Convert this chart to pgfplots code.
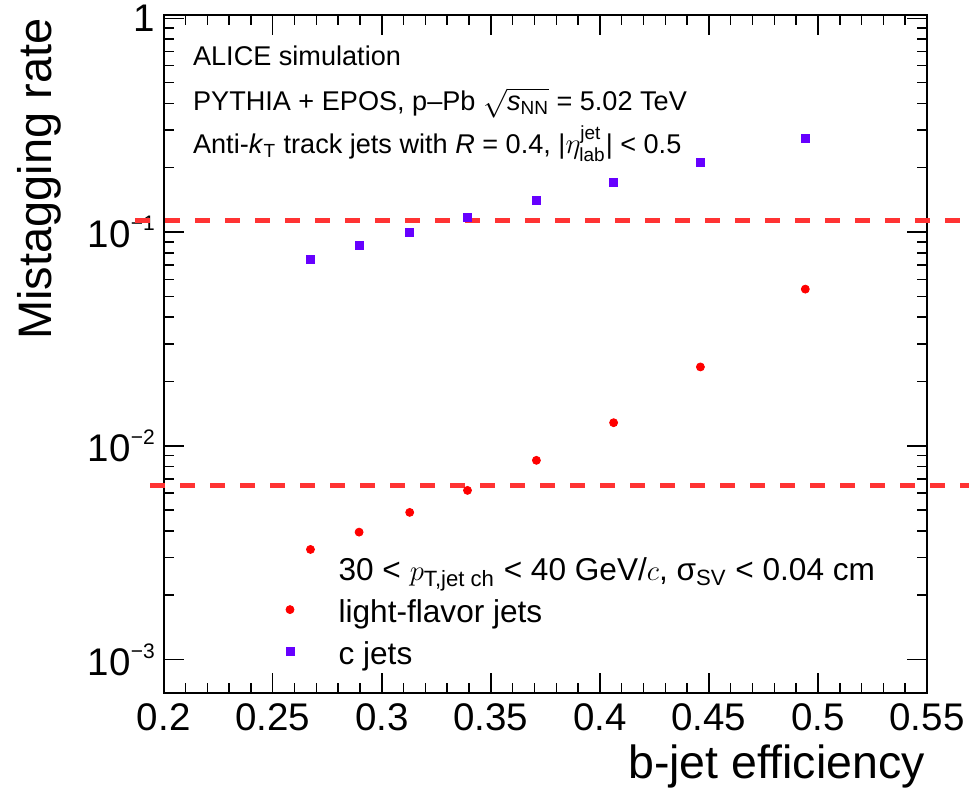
\documentclass[border=0pt]{standalone}
\usepackage{amsmath}
\usepackage{fontspec}
\setmainfont{Liberation Sans}
\usepackage{pgfplots}
\pgfplotsset{compat=1.18}
\definecolor{lfred}{RGB}{255,0,0}
\definecolor{cjet}{RGB}{102,0,255}
\definecolor{dashred}{RGB}{255,51,51}
\begin{document}
\begin{tikzpicture}
\path[use as bounding box] (-81.85pt,-50.65pt) rectangle (402.65pt,346.35pt);
\begin{axis}[
  at={(0pt,0pt)}, anchor=south west,
  scale only axis, width=381.65pt, height=338.85pt,
  xmin=0.2, xmax=0.55, ymode=log, ymin=7e-4, ymax=1.036,
  clip=false,
  xtick={0.2,0.25,0.3,0.35,0.4,0.45,0.5,0.55},
  xticklabels={0.2,0.25,0.3,0.35,0.4,0.45,0.5,0.55},
  minor x tick num=4,
  ytick={0.001,0.01,0.1,1},
  yticklabels={10\raisebox{8.35pt}{\fontsize{10.5}{12}\selectfont −3},
               10\raisebox{8.35pt}{\fontsize{10.5}{12}\selectfont −2},
               10\raisebox{8.35pt}{\fontsize{10.5}{12}\selectfont −1},
               1\hspace{2.5pt}},
  major tick length=10pt, minor tick length=5pt,
  tick style={line width=0.75pt, black},
  axis line style={line width=0.9pt},
  xticklabel style={font=\fontsize{19.25}{23}\selectfont, inner sep=0pt, yshift=-5.3pt},
  yticklabel style={font=\fontsize{19.25}{23}\selectfont, inner sep=0pt, xshift=-4.3pt},
  legend cell align=left,
  legend style={at={(0.16023,0.20171)}, anchor=north west, draw=none, fill=none,
    inner sep=0pt, outer sep=0pt, column sep=22.3pt, row sep=0pt,
    font=\fontsize{15.8}{19}\selectfont,
    nodes={inner sep=0pt, text height=12pt, text depth=9pt}},
  legend image code/.code={\draw[#1] plot coordinates {(0pt,4.7pt)};},
]
\addlegendimage{empty legend}
\addlegendentry{30 < $p_{\text{T,jet ch}}$ < 40 GeV/$c$, σ\textsubscript{SV} < 0.04 cm}

\addplot[only marks, mark=*, color=lfred, mark size=2pt, mark options={fill=lfred, draw=lfred}]
  coordinates {(0.2673,0.003275) (0.2896,0.003948) (0.3128,0.004882) (0.3393,0.006187)
               (0.3709,0.008553) (0.4063,0.01283) (0.4461,0.02339) (0.4942,0.05408)};
\addlegendentry{light-flavor jets}

\addplot[only marks, mark=square*, color=cjet, mark size=2pt, mark options={fill=cjet, draw=cjet}]
  coordinates {(0.2673,0.0747) (0.2896,0.0863) (0.3128,0.0996) (0.3393,0.1176)
               (0.3709,0.1402) (0.4063,0.1714) (0.4461,0.2127) (0.4942,0.2756)};
\addlegendentry{c jets}

\addplot[dashred, line width=2.5pt, dash pattern=on 7.5pt off 7.5pt, forget plot]
  coordinates {(0.18685,0.1133) (0.58,0.1133)};
\addplot[dashred, line width=2.5pt, dash pattern=on 7.5pt off 7.5pt, forget plot]
  coordinates {(0.19372,0.00655) (0.58,0.00655)};

\node[anchor=base west, inner sep=0pt, font=\fontsize{13.55}{16}\selectfont, xshift=14.5pt, yshift=-25pt]
  at (rel axis cs:0,1) {ALICE simulation};
\node[anchor=base west, inner sep=0pt, font=\fontsize{13.55}{16}\selectfont, xshift=14.5pt, yshift=-47.5pt]
  at (rel axis cs:0,1) {PYTHIA + EPOS, p--Pb $\sqrt{\textit{s}_{\text{NN}}}$ = 5.02 TeV};
\node[anchor=base west, inner sep=0pt, font=\fontsize{13.55}{16}\selectfont, xshift=14.5pt, yshift=-69pt]
  at (rel axis cs:0,1) {Anti-\textit{k}$_{\text{T}}$ track jets with \textit{R} = 0.4, |$\eta^{\text{jet}}_{\text{lab}}$| < 0.5};

\node[anchor=base east, inner sep=0pt, font=\fontsize{23.25}{28}\selectfont, yshift=-42.7pt, xshift=-1pt]
  at (rel axis cs:1,0) {b-jet efficiency};
\node[xshift=-55.85pt, yshift=-1.5pt, rotate=90, anchor=base east, inner sep=0pt, font=\fontsize{23.5}{28}\selectfont]
  at (rel axis cs:0,1) {Mistagging rate};
\end{axis}
\end{tikzpicture}
\end{document}
